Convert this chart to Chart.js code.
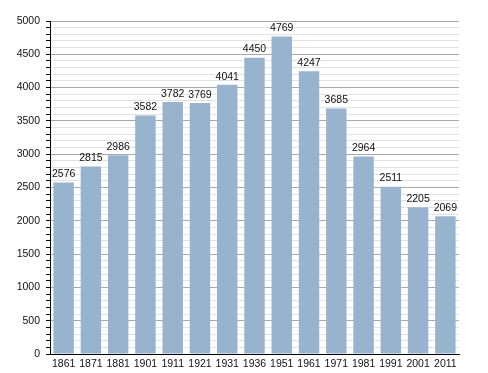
<!DOCTYPE html>
<html><head><meta charset="utf-8">
<script src="https://cdn.jsdelivr.net/npm/chart.js@4/dist/chart.umd.min.js"></script>
<style>html,body{margin:0;padding:0;background:#fff}#w{width:488px;height:373px}</style>
</head><body><div id="w"><canvas id="c"></canvas></div>
<script>
const years = ["1861","1871","1881","1901","1911","1921","1931","1936","1951","1961","1971","1981","1991","2001","2011"];
const population = [2576,2815,2986,3582,3782,3769,4041,4450,4769,4247,3685,2964,2511,2205,2069];

const labelPlugin = {
  id: 'barLabels',
  afterDatasetsDraw(chart) {
    const ctx = chart.ctx;
    const meta = chart.getDatasetMeta(0);
    ctx.save();
    ctx.font = '10.5px "Liberation Sans", Arial, sans-serif';
    ctx.fillStyle = '#111';
    ctx.textAlign = 'center';
    ctx.textBaseline = 'bottom';
    meta.data.forEach((bar, i) => {
      ctx.fillText(String(population[i]), bar.x, bar.y - 3);
    });
    ctx.restore();
  }
};

new Chart(document.getElementById('c'), {
  type: 'bar',
  data: { labels: years, datasets: [{ data: population, backgroundColor: '#98b3cd', borderWidth: 0, barPercentage: 0.75, categoryPercentage: 1 }] },
  options: {
    responsive: true, maintainAspectRatio: false, animation: false,
    layout: { padding: { left: 0, right: 29, top: 21, bottom: 0 } },
    plugins: { legend: { display: false }, tooltip: { enabled: false } },
    scales: {
      x: {
        grid: { display: false, drawTicks: false },
        border: { color: '#000', width: 1 },
        ticks: { color: '#111', font: { family: '"Liberation Sans", Arial, sans-serif', size: 10.5 }, padding: 4, maxRotation: 0, autoSkip: false },
        afterFit(s) { s.height = 19; }
      },
      y: {
        min: 0, max: 5000,
        border: { color: '#000', width: 1 },
        grid: {
          color: (c) => (c.tick && c.tick.value % 500 === 0) ? '#a8a8a8' : '#e2e2e2',
          tickColor: '#000',
          tickLength: 4,
          lineWidth: 1
        },
        ticks: {
          stepSize: 100, autoSkip: false, padding: 6,
          color: '#111', font: { family: '"Liberation Sans", Arial, sans-serif', size: 10.5 },
          callback: (v) => v % 500 === 0 ? String(v) : ''
        },
        afterFit(s) { s.width = 50; }
      }
    }
  },
  plugins: [labelPlugin]
});
</script></body></html>
